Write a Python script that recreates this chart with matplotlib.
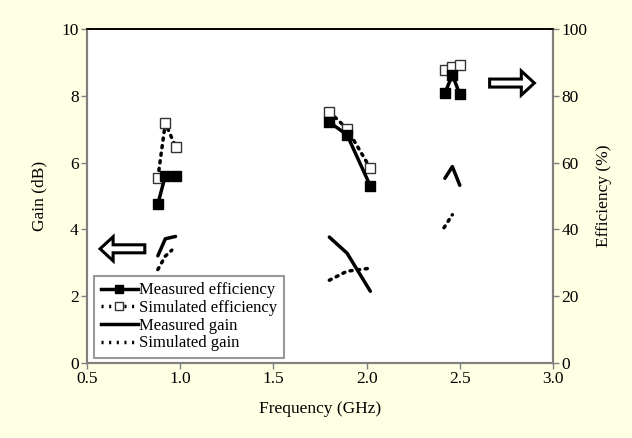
import matplotlib
matplotlib.use("Agg")
import matplotlib.pyplot as plt
from matplotlib.patches import FancyArrow
from matplotlib.lines import Line2D

plt.rcParams['font.family'] = ['Liberation Serif', 'DejaVu Serif']

# frequencies (GHz) for the three bands
f_low = [0.88, 0.92, 0.975]
f_mid = [1.80, 1.895, 2.02]
f_high = [2.42, 2.46, 2.50]

# efficiency (%)
meas_eff_low = [47.6, 56.1, 55.9]
meas_eff_mid = [72.1, 68.3, 53.0]
meas_eff_high = [80.8, 86.2, 80.5]
sim_eff_low = [55.4, 71.8, 64.8]
sim_eff_mid = [75.2, 70.1, 58.3]
sim_eff_high = [87.7, 88.5, 89.2]

# gain (dB)
meas_gain_low = [3.21, 3.72, 3.79]
meas_gain_mid = [3.77, 3.29, 2.15]
meas_gain_high = [5.53, 5.88, 5.32]
sim_gain_low = [2.80, 3.20, 3.38]
sim_gain_mid = [2.48, 2.75, 2.84]
f_sim_gain_low = [0.88, 0.92, 0.955]
f_sim_gain_high = [2.415, 2.46]
sim_gain_high = [4.05, 4.44]

bg = '#ffffe3'
fig = plt.figure(figsize=(6.32, 4.38), dpi=100, facecolor=bg)
ax = fig.add_axes([0.1377, 0.171, 0.7373, 0.763])
ax.set_facecolor('white')
ax2 = ax.twinx()

lw = 2.5
dot = (0, (0.6, 1.6))
for f, g in [(f_low, meas_gain_low), (f_mid, meas_gain_mid), (f_high, meas_gain_high)]:
    ax.plot(f, g, color='black', lw=lw, ls='-', solid_capstyle='round')
for f, g in [(f_sim_gain_low, sim_gain_low), (f_mid, sim_gain_mid), (f_sim_gain_high, sim_gain_high)]:
    ax.plot(f, g, color='black', lw=lw, ls=dot, dash_capstyle='round')

for f, e in [(f_low, sim_eff_low), (f_mid, sim_eff_mid), (f_high, sim_eff_high)]:
    ax2.plot(f, e, color='black', lw=lw, ls=dot, dash_capstyle='round',
             marker='s', ms=6.5, mfc='white', mec='#333333', mew=1.0)
for f, e in [(f_low, meas_eff_low), (f_mid, meas_eff_mid), (f_high, meas_eff_high)]:
    ax2.plot(f, e, color='black', lw=lw, ls='-', marker='s', ms=6.5, mfc='black', mec='black')

# hollow block arrows pointing to the relevant axis
ax.add_patch(FancyArrow(0.81, 3.42, -0.17, 0, width=0.24, head_width=0.72, head_length=0.07,
                        length_includes_head=False, fc='white', ec='black', lw=2.2))
ax.add_patch(FancyArrow(2.66, 8.38, 0.17, 0, width=0.24, head_width=0.72, head_length=0.07,
                        length_includes_head=False, fc='white', ec='black', lw=2.2))

ax.set_xlim(0.5, 3.0)
ax.set_ylim(0, 10)
ax2.set_ylim(0, 100)
ax.set_xticks([0.5, 1.0, 1.5, 2.0, 2.5, 3.0])
ax.set_xticklabels(['0.5', '1.0', '1.5', '2.0', '2.5', '3.0'])
ax.set_yticks(range(0, 11, 2))
ax2.set_yticks(range(0, 101, 20))

for a in (ax, ax2):
    a.tick_params(direction='out', length=4, width=1, color='#808080', labelsize=12.5, pad=2)
    for s in ['left', 'right', 'bottom']:
        a.spines[s].set_color('#808080')
        a.spines[s].set_linewidth(1.5)
    a.spines['top'].set_color('black')
    a.spines['top'].set_linewidth(1.2)

ax.set_xlabel('Frequency (GHz)', fontsize=12.5, labelpad=10)
ax.set_ylabel('Gain (dB)', fontsize=12.5, labelpad=10)
ax2.set_ylabel('Efficiency (%)', fontsize=12.5, labelpad=6)

handles = [
    Line2D([], [], color='black', lw=lw, marker='s', ms=6, mfc='black'),
    Line2D([], [], color='black', lw=lw, ls=dot, marker='s', ms=6, mfc='white', mec='#333333', mew=1.0),
    Line2D([], [], color='black', lw=lw),
    Line2D([], [], color='black', lw=lw, ls=dot),
]
labels = ['Measured efficiency', 'Simulated efficiency', 'Measured gain', 'Simulated gain']
leg = ax2.legend(handles, labels, loc='lower left', bbox_to_anchor=(0.005, 0.0), fontsize=12,
                 frameon=True, fancybox=False, edgecolor='#808080', handlelength=2.2,
                 handletextpad=0.1, labelspacing=0.1, borderpad=0.4, numpoints=1,
                 borderaxespad=0.3)
leg.get_frame().set_linewidth(1.5)

fig.savefig('out.png', dpi=100, facecolor=bg)
